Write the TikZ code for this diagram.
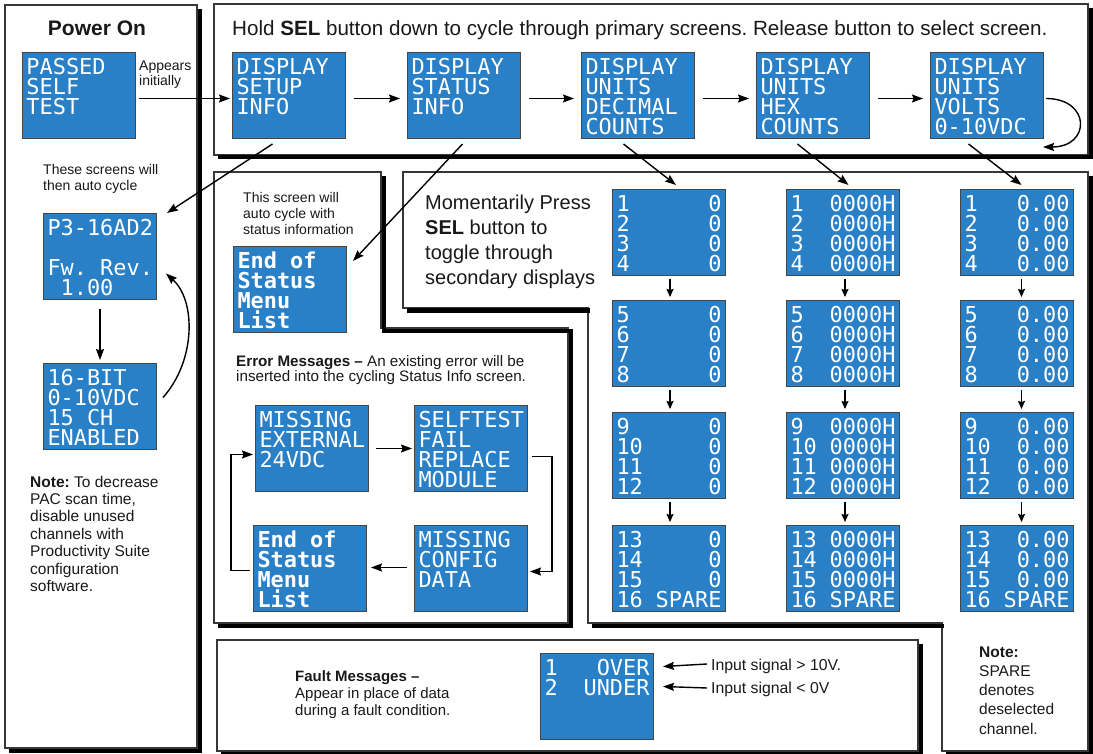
\documentclass[tikz,border=0pt]{standalone}
\usepackage{fontspec}
\setmainfont{Liberation Sans}
\newfontfamily\lcdfont{DejaVu Sans Mono}
\usetikzlibrary{arrows.meta,calc}
\definecolor{scrblue}{RGB}{41,128,199}
\definecolor{scredge}{RGB}{70,70,70}
\definecolor{frameln}{RGB}{55,55,55}
\newcommand\lcdbox[1]{\parbox[c][86pt][t]{113pt}{\raggedright\frenchspacing\leftskip=4pt\relax\lcdfont\fontsize{21.9pt}{20pt}\selectfont\lineskiplimit=-30pt\rule{0pt}{22pt}#1}}
\newcommand\dl[2]{\leavevmode\hbox to 105pt{#1\hfil #2}}
\newcommand\four[5]{\dl{#1}{#5}\\\dl{#2}{#5}\\\dl{#3}{#5}\\\dl{#4}{#5}}
\newcommand\lastrow[2]{\dl{13}{#1}\\\dl{14}{#1}\\\dl{15}{#1}\\\dl{16}{SPARE}}
\newcommand\ml[1]{\begin{tabular}[t]{@{}l@{}}#1\end{tabular}}
\tikzset{
  frame/.style={draw=frameln, line width=1.3pt, fill=white, line join=miter},
  shade/.style={draw=black, line width=4pt, line join=miter, line cap=butt},
  scr/.style={draw=scredge, fill=scrblue, line width=1pt, anchor=north west, inner sep=0pt, text=white},
  arr/.style={-{Stealth[length=11pt,width=8pt,inset=1.5pt]}, line width=1.4pt},
  sarr/.style={-{Stealth[length=8pt,width=7pt,inset=1pt]}, line width=1.4pt},
  tx/.style={anchor=base west, inner sep=0pt, text=black!90}
}
\begin{document}
\frenchspacing
\begin{tikzpicture}[x=1pt,y=-1pt]
\useasboundingbox (0,0) rectangle (1093,754);
% frames
\draw[frame] (5,5) rectangle (197,748);
\draw[frame] (214,4) rectangle (1088,155);
\draw[frame] (214,172) -- (381,172) -- (381,328) -- (568,328) -- (568,623) -- (214,623) -- cycle;
\draw[frame] (403,172) -- (1088,172) -- (1088,751) -- (942,751) -- (942,623) -- (588,623) -- (588,308) -- (403,308) -- cycle;
\draw[frame] (217,640) rectangle (918,751);
% shadows
\draw[shade] (199.5,9) -- (199.5,750.5) -- (9,750.5);
\draw[shade] (1090.5,8) -- (1090.5,157.5) -- (218,157.5);
\draw[shade] (383.5,176) -- (383.5,330.5) -- (570.5,330.5) -- (570.5,625.5) -- (218,625.5);
\draw[shade] (1090.5,176) -- (1090.5,753.5) -- (946,753.5);
\draw[shade] (407,310.5) -- (590,310.5);
\draw[shade] (592,625.5) -- (944,625.5);
\draw[shade] (920.5,644) -- (920.5,753.5) -- (221,753.5);
% top row screens
\node[scr] (pass) at (22,52) {\lcdbox{PASSED\\SELF\\TEST}};
\node[scr] (setup) at (232,52) {\lcdbox{DISPLAY\\SETUP\\INFO}};
\node[scr] (stat) at (407,52) {\lcdbox{DISPLAY\\STATUS\\INFO}};
\node[scr] (dec) at (581,52) {\lcdbox{DISPLAY\\UNITS\\DECIMAL\\COUNTS}};
\node[scr] (hex) at (756,52) {\lcdbox{DISPLAY\\UNITS\\HEX\\COUNTS}};
\node[scr] (volt) at (930,52) {\lcdbox{DISPLAY\\UNITS\\VOLTS\\0-10VDC}};
% power on column
\node[scr] (p3) at (43,213) {\lcdbox{P3-16AD2\\\mbox{}\\Fw. Rev.\\~1.00}};
\node[scr] (bit) at (43,363) {\lcdbox{16-BIT\\0-10VDC\\15 CH\\ENABLED}};
% status column
\node[scr] (eos) at (233,246) {\lcdbox{\bfseries End of\\Status\\Menu\\List}};
\node[scr] (ext) at (255,405) {\lcdbox{MISSING\\EXTERNAL\\24VDC}};
\node[scr] (self) at (414,405) {\lcdbox{SELFTEST\\FAIL\\REPLACE\\MODULE}};
\node[scr] (eos2) at (253,525) {\lcdbox{\bfseries End of\\Status\\Menu\\List}};
\node[scr] (cfg) at (414,525) {\lcdbox{MISSING\\CONFIG\\DATA}};
% data screens
\node[scr] (d1) at (612,189) {\lcdbox{\four{1}{2}{3}{4}{0}}};
\node[scr] (d2) at (612,300) {\lcdbox{\four{5}{6}{7}{8}{0}}};
\node[scr] (d3) at (612,412) {\lcdbox{\four{9}{10}{11}{12}{0}}};
\node[scr] (d4) at (612,525) {\lcdbox{\lastrow{0}}};
\node[scr] (h1) at (786,189) {\lcdbox{\four{1}{2}{3}{4}{0000H}}};
\node[scr] (h2) at (786,300) {\lcdbox{\four{5}{6}{7}{8}{0000H}}};
\node[scr] (h3) at (786,412) {\lcdbox{\four{9}{10}{11}{12}{0000H}}};
\node[scr] (h4) at (786,525) {\lcdbox{\lastrow{0000H}}};
\node[scr] (v1) at (960,189) {\lcdbox{\four{1}{2}{3}{4}{0.00}}};
\node[scr] (v2) at (960,300) {\lcdbox{\four{5}{6}{7}{8}{0.00}}};
\node[scr] (v3) at (960,412) {\lcdbox{\four{9}{10}{11}{12}{0.00}}};
\node[scr] (v4) at (960,525) {\lcdbox{\lastrow{0.00}}};
% fault screen
\node[scr] (flt) at (540,653) {\lcdbox{\dl{1}{OVER}\\\dl{2}{UNDER}}};
% texts
\node[tx, anchor=base, font=\bfseries\fontsize{21}{24}\selectfont] (pwr) at (97,36) {Power On};
\node[tx, font=\fontsize{20.6}{24}\selectfont] (hdr) at (232,36) {Hold \textbf{SEL} button down to cycle through primary screens. Release button to select screen.};
\node[tx, font=\fontsize{14}{15}\selectfont] (app) at (139,71) {\ml{Appears\\initially}};
\node[tx, font=\fontsize{14}{16}\selectfont] (auto) at (43,175) {\ml{These screens will\\then auto cycle}};
\node[tx, font=\fontsize{15.5}{17.4}\selectfont] (note1) at (30,487) {\ml{\textbf{Note:} To decrease\\PAC scan time,\\disable unused\\channels with\\Productivity Suite\\configuration\\software.}};
\node[tx, font=\fontsize{14}{16}\selectfont] (stx) at (243,203) {\ml{This screen will\\auto cycle with\\status information}};
\node[tx, font=\fontsize{15.2}{16}\selectfont] (err) at (236,366) {\ml{\textbf{Error Messages --} An existing error will be\\inserted into the cycling Status Info screen.}};
\node[tx, font=\fontsize{20}{25}\selectfont] (mom) at (425,210) {\ml{Momentarily Press\\\textbf{SEL} button to\\toggle through\\secondary displays}};
\node[tx, font=\fontsize{15}{17}\selectfont] (fm) at (295,681) {\ml{\textbf{Fault Messages --}\\Appear in place of data\\during a fault condition.}};
\node[tx, font=\fontsize{15.5}{19.3}\selectfont] (note2) at (979,657) {\ml{\textbf{Note:}\\SPARE\\denotes\\deselected\\channel.}};
\node[tx, font=\fontsize{15.8}{18}\selectfont] (in1) at (711,670) {Input signal > 10V.};
\node[tx, font=\fontsize{15.8}{18}\selectfont] (in2) at (711,693) {Input signal < 0V};
% top row arrows
\draw[arr] ($(pass.east)+(3,3)$) -- ($(setup.west)+(-2,3)$);
\draw[arr] ($(setup.east)+(8,3)$) -- ($(stat.west)+(-7,3)$);
\draw[arr] ($(stat.east)+(8,3)$) -- ($(dec.west)+(-7,3)$);
\draw[arr] ($(dec.east)+(8,3)$) -- ($(hex.west)+(-7,3)$);
\draw[arr] ($(hex.east)+(8,3)$) -- ($(volt.west)+(-7,3)$);
\draw[arr] ($(volt.east)+(2,3)$) .. controls +(45,0) and +(48,0) .. ($(volt.south east)+(-1,8)$);
% diagonal connectors
\draw[arr] ($(setup.south)+(-16.5,5)$) -- ($(p3.north east)+(10,0)$);
\draw[arr] ($(stat.south)+(-1.5,5)$) -- ($(eos.north east)+(6,15)$);
\draw[arr] ($(dec.south)+(-14.5,5)$) -- ($(d1.north)+(7,-4)$);
\draw[arr] ($(hex.south)+(-15.5,5)$) -- ($(h1.north)+(5.5,-4)$);
\draw[arr] ($(volt.south)+(-18.5,5)$) -- ($(v1.north)+(4.5,-4)$);
% power column arrows
\draw[arr] ($(p3.south)+(0,9)$) -- ($(bit.north)+(0,-3)$);
\draw[arr] ($(bit.east)+(6,-9)$) .. controls +(33,-37) and +(30,27) .. ($(p3.east)+(9,17)$);
% error cycle
\draw[arr] ($(ext.east)+(7,0)$) -- ($(self.west)+(-2,0)$);
\draw[arr] ($(self.east)+(4,8)$) -- ++(20,0) |- ($(cfg.east)+(2,3)$);
\draw[arr] ($(cfg.west)+(-7,-1)$) -- ($(eos2.east)+(4,-1)$);
\draw[arr] ($(eos2.west)+(-3,2)$) -- ++(-19,0) |- ($(ext.west)+(-2,6)$);
% data column arrows
\draw[sarr] ($(d1.south)+(1,3)$) -- ($(d2.north)+(1,-3)$);
\draw[sarr] ($(d2.south)+(1,3)$) -- ($(d3.north)+(1,-3)$);
\draw[sarr] ($(d3.south)+(1,3)$) -- ($(d4.north)+(1,-3)$);
\draw[sarr] ($(h1.south)+(2,3)$) -- ($(h2.north)+(2,-3)$);
\draw[sarr] ($(h2.south)+(2,3)$) -- ($(h3.north)+(2,-3)$);
\draw[sarr] ($(h3.south)+(2,3)$) -- ($(h4.north)+(2,-3)$);
\draw[sarr] ($(v1.south)+(4.5,3)$) -- ($(v2.north)+(4.5,-3)$);
\draw[sarr] ($(v2.south)+(4.5,3)$) -- ($(v3.north)+(4.5,-3)$);
\draw[sarr] ($(v3.south)+(4.5,3)$) -- ($(v4.north)+(4.5,-3)$);
% fault arrows
\draw[arr] ($(in1.base west)+(-4,-6)$) -- ($(flt.east)+(9,-30)$);
\draw[arr] ($(in2.base west)+(-4,-5)$) -- ($(flt.east)+(9,-10)$);
\end{tikzpicture}
\end{document}
